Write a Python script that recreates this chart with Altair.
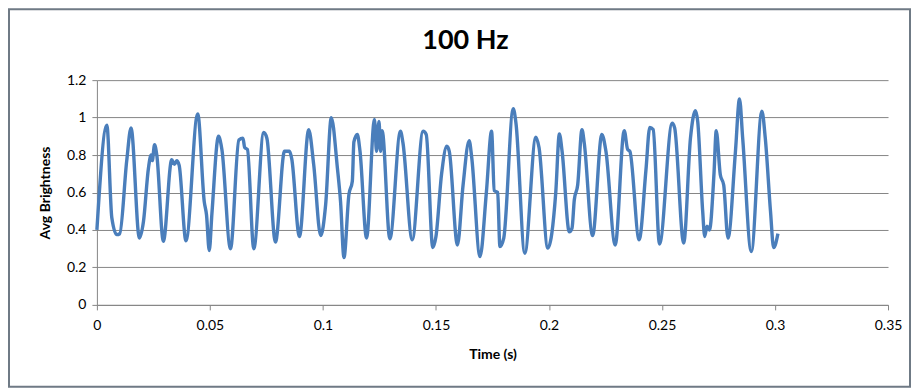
import altair as alt
import pandas as pd

# Time (s) and average brightness
time_s = [
    0.0000, 0.0044, 0.0066, 0.0088, 0.0101, 0.0132, 0.0151, 0.0188, 0.0206, 0.0228,
    0.0240, 0.0245, 0.0255, 0.0265, 0.0294, 0.0331, 0.0343, 0.0353, 0.0364, 0.0394,
    0.0446, 0.0475, 0.0485, 0.0497, 0.0509, 0.0538, 0.0553, 0.0591, 0.0628, 0.0646,
    0.0654, 0.0666, 0.0694, 0.0738, 0.0752, 0.0790, 0.0830, 0.0852, 0.0862, 0.0896,
    0.0937, 0.0959, 0.0990, 0.1012, 0.1037, 0.1064, 0.1078, 0.1093, 0.1115, 0.1130,
    0.1137, 0.1152, 0.1164, 0.1193, 0.1228, 0.1237, 0.1248, 0.1255, 0.1262, 0.1296,
    0.1343, 0.1354, 0.1395, 0.1443, 0.1457, 0.1486, 0.1500, 0.1525, 0.1548, 0.1559,
    0.1595, 0.1620, 0.1647, 0.1658, 0.1695, 0.1723, 0.1746, 0.1758, 0.1773, 0.1783,
    0.1800, 0.1842, 0.1854, 0.1893, 0.1942, 0.1956, 0.1995, 0.2030, 0.2046, 0.2058,
    0.2090, 0.2102, 0.2112, 0.2127, 0.2146, 0.2156, 0.2193, 0.2234, 0.2252, 0.2293,
    0.2333, 0.2348, 0.2358, 0.2399, 0.2429, 0.2446, 0.2461, 0.2489, 0.2545, 0.2556,
    0.2596, 0.2626, 0.2648, 0.2658, 0.2680, 0.2689, 0.2699, 0.2710, 0.2730, 0.2740,
    0.2758, 0.2773, 0.2792, 0.2825, 0.2843, 0.2857, 0.2895, 0.2942, 0.2957, 0.2980,
    0.2994, 0.3013,
]
brightness = [
    0.40, 0.96, 0.465, 0.375, 0.38, 0.77, 0.945, 0.357, 0.445, 0.73,
    0.80, 0.77, 0.855, 0.80, 0.34, 0.775, 0.75, 0.77, 0.745, 0.342,
    1.02, 0.55, 0.48, 0.29, 0.49, 0.90, 0.83, 0.30, 0.88, 0.89,
    0.84, 0.83, 0.30, 0.92, 0.89, 0.335, 0.82, 0.82, 0.78, 0.365,
    0.935, 0.75, 0.37, 0.535, 1.00, 0.73, 0.55, 0.253, 0.59, 0.66,
    0.87, 0.91, 0.82, 0.357, 0.99, 0.82, 0.98, 0.82, 0.93, 0.353,
    0.927, 0.865, 0.348, 0.927, 0.91, 0.306, 0.365, 0.70, 0.847, 0.82,
    0.32, 0.64, 0.877, 0.79, 0.258, 0.60, 0.927, 0.61, 0.60, 0.312,
    0.357, 1.048, 0.97, 0.276, 0.895, 0.84, 0.303, 0.60, 0.913, 0.82,
    0.39, 0.41, 0.56, 0.64, 0.936, 0.865, 0.37, 0.91, 0.82, 0.32,
    0.93, 0.83, 0.82, 0.348, 0.72, 0.948, 0.936, 0.325, 0.97, 0.945,
    0.33, 0.89, 1.037, 0.98, 0.50, 0.365, 0.42, 0.40, 0.70, 0.93,
    0.695, 0.64, 0.357, 0.82, 1.10, 0.89, 0.285, 1.034, 0.89, 0.50,
    0.306, 0.38,
]
x_ticks = [0, 0.05, 0.1, 0.15, 0.2, 0.25, 0.3, 0.35]
y_ticks = [0, 0.2, 0.4, 0.6, 0.8, 1.0, 1.2]

df = pd.DataFrame({"t": time_s, "b": brightness})

FONT = "Lato"
AXIS_GRAY = "#868686"

line = alt.Chart(df).mark_line(
    color="#4a7ebb", strokeWidth=3.4, interpolate="monotone"
).encode(
    x=alt.X("t:Q", title="Time (s)",
            scale=alt.Scale(domain=[0, 0.35], nice=False, zero=False),
            axis=alt.Axis(values=x_ticks, format="~g", grid=False, labelFlush=False,
                          tickSize=5, labelPadding=9, titlePadding=15)),
    y=alt.Y("b:Q", title="Avg Brightness",
            scale=alt.Scale(domain=[0, 1.2], nice=False),
            axis=alt.Axis(values=y_ticks, format="~g", grid=True, labelFlush=False,
                          tickSize=5, labelPadding=6, titlePadding=14)),
)

frame = alt.Chart(alt.Data(values=[{"k": 1}])).mark_rect(
    fillOpacity=0, stroke="#6f7a85", strokeWidth=2
).encode(
    x=alt.value(-88), x2=alt.value(814), y=alt.value(-71), y2=alt.value(307)
)

chart = alt.layer(frame, line).properties(
    width=792, height=225,
    padding={"left": 89, "top": 72, "right": 23, "bottom": 83},
    autosize=alt.AutoSizeParams(type="none"),
    title=alt.TitleParams("100 Hz", font=FONT, fontSize=27, fontWeight="bold",
                          color="black", anchor="middle", frame="group",
                          dx=-27, offset=-47),
).configure_view(stroke=None).configure_axis(
    labelFont=FONT, labelFontSize=14, labelColor="#000000",
    titleFont=FONT, titleFontSize=14, titleFontWeight="bold", titleColor="#000000",
    domainColor=AXIS_GRAY, tickColor=AXIS_GRAY, gridColor=AXIS_GRAY,
    gridOpacity=1, domainWidth=1, gridWidth=1,
)

chart.save("out.html", embed_options={"renderer": "svg", "actions": False})
